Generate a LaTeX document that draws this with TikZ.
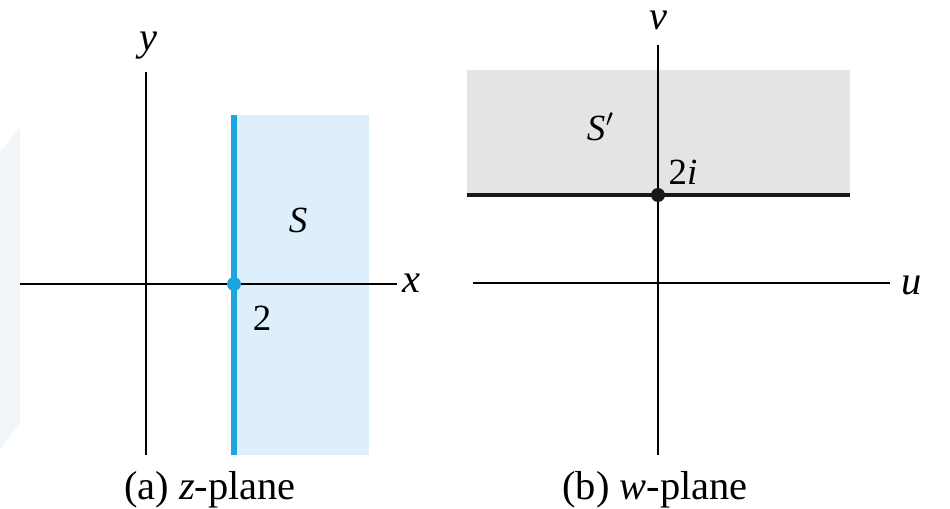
\documentclass[tikz,border=0pt]{standalone}
\usepackage{fontspec}
\setmainfont{Liberation Serif}
\definecolor{stripblue}{HTML}{DDEFFB}
\definecolor{lineblue}{HTML}{1CA5E0}
\definecolor{halfgray}{HTML}{E3E4E6}
\definecolor{markfaint}{HTML}{F1F6FB}
\begin{document}
\begin{tikzpicture}[x=0.01cm,y=-0.01cm]
	% styles
	\tikzstyle{axis} = [draw=black,line width=0.45pt]
	\tikzstyle{lbl} = [inner sep=0pt,font=\fontsize{11.5}{14}\selectfont\itshape]
	\tikzstyle{txt} = [inner sep=0pt,font=\fontsize{11.5}{14}\selectfont]
	\tikzstyle{small} = [inner sep=0pt,font=\fontsize{10.5}{13}\selectfont]
	
	% bounding box
	\useasboundingbox (0,0) rectangle (950,509);
	\fill[white] (0,0) rectangle (950,509);
	\fill[markfaint] (0,152) -- (20,127) -- (20,423) -- (0,450) -- cycle;
	
	% z-plane (left)
	\fill[stripblue] (234,115) rectangle (369,455);
	\coordinate (zw) at (20,284);
	\coordinate (ze) at (397,284);
	\coordinate (zs) at (146,455);
	\coordinate (zn) at (146,72);
	\draw[axis] (zw) -- (ze);
	\draw[axis] (zs) -- (zn);
	\draw[lineblue,line width=1.45pt] (234,115) -- (234,455);
	\fill[lineblue] (234,284) circle (7);
	\node[lbl] (xlab) at (411,283) {x};
	\node[lbl] (ylab) at (148,46) {y};
	\node[small,font=\fontsize{10.5}{13}\selectfont\itshape] (slab) at (298,220) {S};
	\node[small] (two) at (262,318) {2};
	\node[txt] (zcap) at (210,490) {(a) \textit{z}-plane};
	
	% w-plane (right)
	\fill[halfgray] (467,70) rectangle (850,195);
	\coordinate (ww) at (473,283);
	\coordinate (we) at (890,283);
	\coordinate (ws) at (658,455);
	\coordinate (wn) at (658,45);
	\draw[axis] (ww) -- (we);
	\draw[axis] (ws) -- (wn);
	\draw[black!90,line width=1.2pt] (467,195) -- (850,195);
	\fill[black!90] (658,195) circle (7);
	\node[lbl] (ulab) at (912,285) {u};
	\node[lbl] (vlab) at (658,20) {v};
	\node[small,font=\fontsize{10.5}{13}\selectfont\itshape] (sprime) at (601,127) {S$'$};
	\node[small] (twoi) at (683,172) {2\textit{i}};
	\node[txt] (wcap) at (655,490) {(b) \textit{w}-plane};
\end{tikzpicture}
\end{document}
